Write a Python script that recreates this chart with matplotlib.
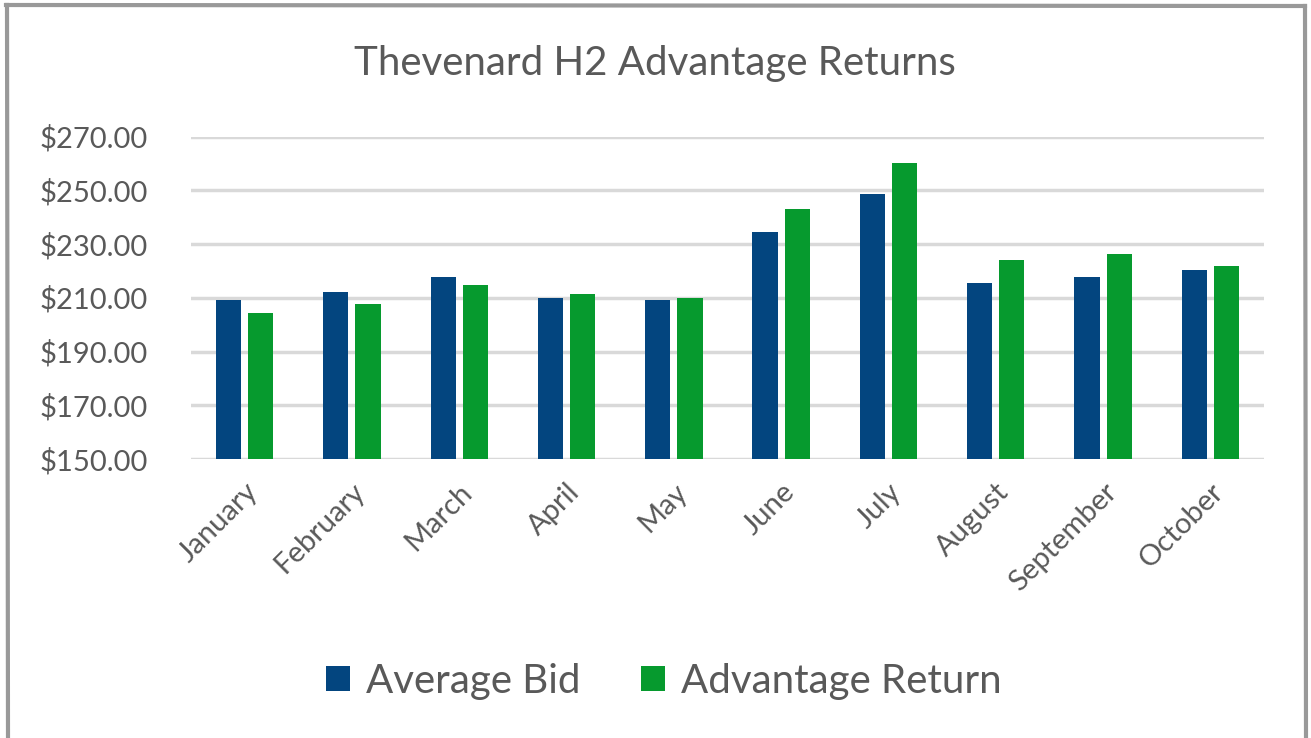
import matplotlib
matplotlib.use("Agg")
import matplotlib.pyplot as plt
import numpy as np
from matplotlib.lines import Line2D

months = ["January", "February", "March", "April", "May", "June", "July",
          "August", "September", "October"]
average_bid = [209.2, 212.0, 217.7, 209.9, 209.1, 234.5, 248.6, 215.5, 217.7, 220.4]
advantage_return = [204.3, 207.8, 214.8, 211.4, 209.9, 243.0, 260.0, 223.9, 226.1, 221.9]
series_names = ["Average Bid", "Advantage Return"]
yticks = [150, 170, 190, 210, 230, 250, 270]

BLUE = "#03457F"
GREEN = "#069A2E"
TEXT = "#595959"
GRID = "#D9D9D9"

plt.rcParams['font.family'] = ['Lato', 'DejaVu Sans']

W, H = 1311, 738
fig = plt.figure(figsize=(W / 100, H / 100), dpi=100)
ax = fig.add_axes([191 / W, 1 - 459 / H, (1264 - 191) / W, (459 - 136.5) / H])

x = np.arange(len(months))
bw = 0.235
off = 0.15
ax.bar(x - off, np.array(average_bid) - 150, bw, bottom=150, color=BLUE, label=series_names[0], zorder=3)
ax.bar(x + off, np.array(advantage_return) - 150, bw, bottom=150, color=GREEN, label=series_names[1], zorder=3)

ax.set_xlim(-0.5, len(months) - 0.5)
ax.set_ylim(150, 270)
ax.set_yticks(yticks)
ax.set_yticklabels([f"${v:.2f}" for v in yticks], fontsize=21, color=TEXT)
ax.grid(axis="y", color=GRID, linewidth=2.5, zorder=0)
ax.set_xticks(x)
ax.set_xticklabels(months, rotation=45, ha="right", rotation_mode="anchor",
                   fontsize=21, color=TEXT)
ax.tick_params(axis="both", length=0)
ax.tick_params(axis="y", pad=31)
ax.tick_params(axis="x", pad=14)
for s in ax.spines.values():
    s.set_visible(False)

fig.text(655 / W, 1 - 63 / H, "Thevenard H2 Advantage Returns", ha="center", va="center",
         fontsize=29, color=TEXT)

fig.legend(loc="center", bbox_to_anchor=(664 / W, 1 - 681 / H), ncol=2, frameon=False,
           fontsize=29, labelcolor=TEXT, handlelength=0.6, handleheight=0.6,
           handletextpad=0.4, columnspacing=1.5)

# sketchy frame
fc = "#999999"
fig.add_artist(Line2D([6 / W, 1305 / W], [1 - 5 / H, 1 - 6 / H], color=fc, lw=3, transform=fig.transFigure))
fig.add_artist(Line2D([7 / W, 8 / W], [1 - 5 / H, 0], color=fc, lw=3, transform=fig.transFigure))
fig.add_artist(Line2D([1305 / W, 1306 / W], [1 - 6 / H, 0], color=fc, lw=3, transform=fig.transFigure))

fig.savefig("out.png", dpi=100, facecolor="white")
